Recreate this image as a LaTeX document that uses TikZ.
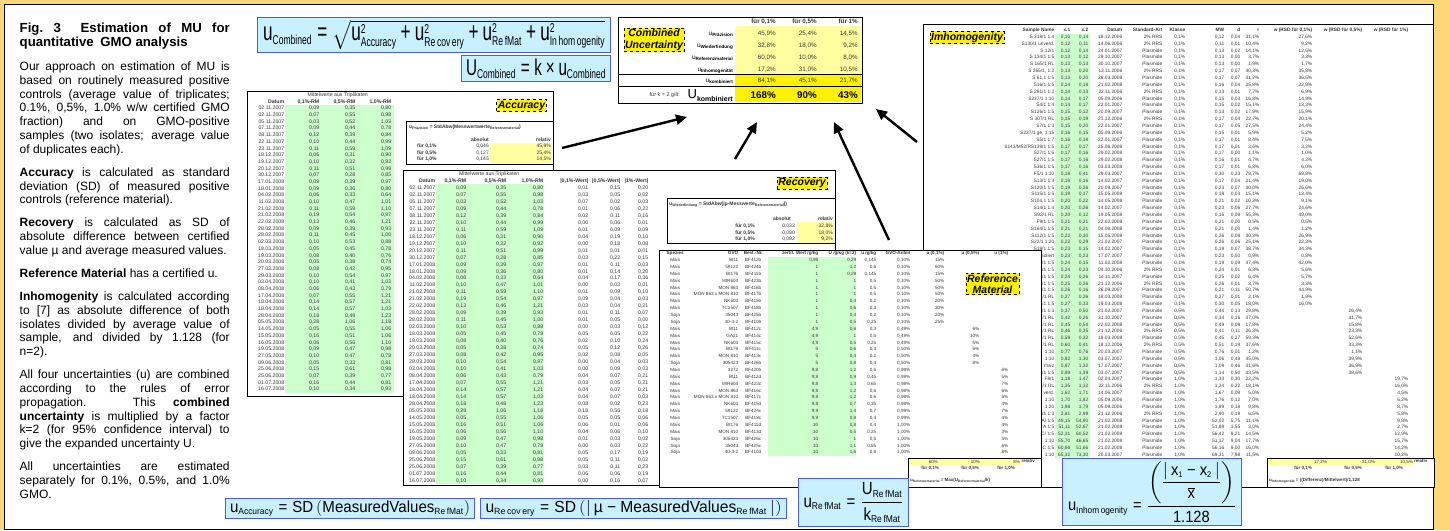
\documentclass[tikz,border=0pt]{standalone}
\usepackage{amsmath}
\usepackage{fontspec}
\usepackage{array}
\setmainfont{Liberation Sans}
\newfontfamily\eqfont[FakeStretch=0.86]{Liberation Sans}
\usetikzlibrary{positioning,arrows.meta}

\definecolor{posteryellow}{RGB}{255,216,117}
\definecolor{eqblue}{RGB}{75,95,220}
\definecolor{eqcyan}{RGB}{200,240,255}
\definecolor{rmgreen}{RGB}{204,255,204}
\definecolor{paleyellow}{RGB}{255,255,160}
\definecolor{celltext}{RGB}{55,55,55}

\newcolumntype{R}[1]{>{\raggedleft\arraybackslash}p{#1pt}}
\newcolumntype{C}[1]{>{\centering\arraybackslash}p{#1pt}}
\setlength{\tabcolsep}{0pt}

\newcommand{\sz}[2]{\mbox{\fontsize{#1}{#1}\selectfont #2}}
\newcommand{\lo}[2]{\raisebox{-0.45ex}{\fontsize{#1}{#1}\selectfont #2}}
\newcommand{\eqsign}{\mathrel{\mbox{=}}}
\newcommand{\plussign}{\mathbin{\mbox{+}}}
\newcommand{\pgap}{\par\vspace{9.2pt}}

\tikzset{eqbox/.style = {draw=eqblue, fill=eqcyan, line width=1.1pt, inner sep=0, anchor=north west}}
\tikzset{tabframe/.style = {draw=black, fill=white, line width=1pt}}
\tikzset{tabtext/.style = {anchor=north west, inner sep=0, text=celltext}}
\tikzset{innerbox/.style = {draw, fill=white, line width=1pt, inner sep=0, anchor=north west}}
\tikzset{tag/.style = {draw, dashed, fill=yellow, line width=0.7pt, inner sep=1.2pt, align=center,
                       font=\fontsize{10.5}{11.5}\selectfont\bfseries\itshape}}
\tikzset{cell/.style = {inner sep=0, text height=3.7pt, text depth=1pt, text=celltext, font=\fontsize{5}{5}\selectfont\bfseries}}
\tikzset{cellv/.style = {cell, anchor=east, font=\fontsize{5}{5}\selectfont}}
\tikzset{subval/.style = {inner sep=0, text height=3.3pt, text depth=0.9pt, text=celltext, anchor=east, font=\fontsize{4.5}{4.5}\selectfont}}
\tikzset{subhead/.style = {subval, anchor=center, font=\fontsize{4.5}{4.5}\selectfont\bfseries}}
\tikzset{cuval/.style = {anchor=east, inner sep=0, text height=4.6pt, text depth=1.3pt, text=celltext, font=\fontsize{6.3}{6.3}\selectfont}}
\tikzset{cuhead/.style = {cuval, font=\fontsize{6.3}{6.3}\selectfont\bfseries}}
\tikzset{culab/.style = {anchor=east, inner sep=0, text height=4.7pt, text depth=1.8pt, font=\fontsize{6.5}{6.5}\selectfont}}
\tikzset{bigarrow/.style = {-{Triangle[length=11pt,width=10pt]}, line width=2.4pt}}

\begin{document}
\begin{tikzpicture}[x=1pt, y=-1pt]
    % poster frame
    \fill[posteryellow] (0,0) rectangle (1450,530);
    \draw[fill=white, line width=0.8pt] (4,4.5) rectangle (1433.5,529.6);

    % left column
    \node[anchor=north west, inner sep=0, text width=210pt, align=justify,
          font=\fontsize{12}{13.8}\selectfont] (intro) at (19.5,22.5) {%
      {\fontsize{13.2}{14.5}\selectfont\bfseries Fig.~3\hspace{1.5em}Estimation of MU for\linebreak quantitative\enspace GMO analysis\par}
      \vspace{10pt}
      Our approach on estimation of MU is\linebreak based on routinely measured positive\linebreak controls (average value of triplicates;\linebreak 0.1\%, 0,5\%, 1.0\% w/w certified GMO\linebreak fraction) and on GMO-positive\linebreak samples (two isolates; average value\linebreak of duplicates each).\pgap
      \textbf{Accuracy} is calculated as standard\linebreak deviation (SD) of measured positive\linebreak controls (reference material).\pgap
      \textbf{Recovery} is calculated as SD of\linebreak absolute difference between certified\linebreak value µ and average measured values.\pgap
      \textbf{Reference Material} has a certified u.\pgap
      \textbf{Inhomogenity} is calculated according\linebreak to [7] as absolute difference of both\linebreak isolates divided by average value of\linebreak sample, and divided by 1.128 (for\linebreak n=2).\pgap
      All four uncertainties (u) are combined\linebreak according to the rules of error\linebreak propagation. This \textbf{combined}\linebreak \textbf{uncertainty} is multiplied by a factor\linebreak k=2 (for 95\% confidence interval) to\linebreak give the expanded uncertainty U.\pgap
      All uncertainties are estimated\linebreak separately for 0.1\%, 0.5\%, and 1.0\%\linebreak GMO.};

    % Accuracy
    \draw[tabframe] (247,91) rectangle (553,396);
    \fill[rmgreen] (285,105) rectangle (394,392.7);
    \node[tabtext, font=\fontsize{5.2}{6.69}\selectfont] (acctab) at (248,91.6) {%
      \begin{tabular}{R{36}R{35}R{36}R{36}}
       & \multicolumn{3}{c}{Mittelwerte aus Triplikaten}\\
      \textbf{Datum} & \textbf{0,1\%-RM} & \textbf{0,5\%-RM} & \textbf{1,0\%-RM}\\
      02.11.2007 & 0,09 & 0,35 & 0,80\\
      02.11.2007 & 0,07 & 0,55 & 0,98\\
      05.11.2007 & 0,03 & 0,52 & 1,03\\
      07.11.2007 & 0,09 & 0,44 & 0,78\\
      08.11.2007 & 0,12 & 0,39 & 0,84\\
      22.11.2007 & 0,10 & 0,44 & 0,99\\
      23.11.2007 & 0,11 & 0,59 & 1,09\\
      18.12.2007 & 0,06 & 0,31 & 0,90\\
      19.12.2007 & 0,10 & 0,32 & 0,92\\
      20.12.2007 & 0,11 & 0,51 & 0,99\\
      30.12.2007 & 0,07 & 0,28 & 0,85\\
      17.01.2008 & 0,09 & 0,39 & 0,97\\
      18.01.2008 & 0,09 & 0,36 & 0,80\\
      04.02.2008 & 0,06 & 0,33 & 0,64\\
      11.02.2008 & 0,10 & 0,47 & 1,01\\
      21.02.2008 & 0,11 & 0,59 & 1,10\\
      21.02.2008 & 0,19 & 0,54 & 0,97\\
      22.02.2008 & 0,13 & 0,46 & 1,21\\
      28.02.2008 & 0,09 & 0,39 & 0,93\\
      28.02.2008 & 0,11 & 0,45 & 1,00\\
      02.03.2008 & 0,10 & 0,53 & 0,88\\
      18.03.2008 & 0,05 & 0,45 & 0,78\\
      19.03.2008 & 0,08 & 0,40 & 0,76\\
      20.03.2008 & 0,05 & 0,38 & 0,74\\
      27.03.2008 & 0,08 & 0,42 & 0,95\\
      29.03.2008 & 0,10 & 0,54 & 0,97\\
      03.04.2008 & 0,10 & 0,41 & 1,03\\
      08.04.2008 & 0,06 & 0,43 & 0,79\\
      17.04.2008 & 0,07 & 0,55 & 1,21\\
      18.04.2008 & 0,14 & 0,57 & 1,21\\
      18.04.2008 & 0,14 & 0,57 & 1,03\\
      28.04.2008 & 0,18 & 0,48 & 1,23\\
      05.05.2008 & 0,28 & 1,06 & 1,18\\
      14.05.2008 & 0,05 & 0,55 & 1,06\\
      15.05.2008 & 0,16 & 0,51 & 1,06\\
      16.05.2008 & 0,06 & 0,56 & 1,10\\
      19.05.2008 & 0,09 & 0,47 & 0,98\\
      27.05.2008 & 0,10 & 0,47 & 0,78\\
      09.06.2008 & 0,05 & 0,33 & 0,81\\
      25.06.2008 & 0,15 & 0,61 & 0,98\\
      25.06.2008 & 0,07 & 0,39 & 0,77\\
      01.07.2008 & 0,16 & 0,44 & 0,81\\
      16.07.2008 & 0,10 & 0,34 & 0,93\\
      \end{tabular}};
    \node[innerbox, minimum width=147, minimum height=43] (precbox) at (406,121) {};
    \node[cell, anchor=west] (precf) at (409,127) {u\lo{3.6}{Präzision} = StdAbw(Messwertwerte\lo{3.6}{Referenzmaterial})};
    \node[cell, anchor=east] (precabs) at (489,140) {absolut};
    \node[cell, anchor=east] (precrel) at (551,140) {relativ};
    \fill[paleyellow] (490,143) rectangle (552,163.5);
    \foreach \y/\f/\a/\r [count=\i] in {146.5/{für 0,1\%}/{0,046}/{45,9\%},
                                         153/{für 0,5\%}/{0,127}/{25,4\%},
                                         159.5/{für 1,0\%}/{0,145}/{14,5\%}} {
      \node[cell, anchor=west] (precl\i) at (417,\y) {\f};
      \node[cellv] (preca\i) at (489,\y) {\a};
      \node[cellv] (precr\i) at (551,\y) {\r};
    }
    \node[tag] (acctag) at (521.5,105.5) {Accuracy};

    % Recovery
    \draw[tabframe] (403,170) rectangle (835,485);
    \fill[rmgreen] (436,184.2) rectangle (544,484.3);
    \node[tabtext, font=\fontsize{5.2}{6.98}\selectfont] (rectab) at (403,170.2) {%
      \begin{tabular}{R{32}R{31}R{40}R{37}R{45}R{32}R{28}}
       & \multicolumn{3}{c}{Mittelwerte aus Triplikaten} & & & \\
      \textbf{Datum} & \textbf{0,1\%-RM} & \textbf{0,5\%-RM} & \textbf{1,0\%-RM} & \textbf{|0,1\%-Wert|} & \textbf{|0,5\%-Wert|} & \textbf{|1\%-Wert|}\\
      02.11.2007 & 0,09 & 0,35 & 0,80 & 0,01 & 0,15 & 0,20\\
      02.11.2007 & 0,07 & 0,55 & 0,98 & 0,03 & 0,05 & 0,02\\
      05.11.2007 & 0,03 & 0,52 & 1,03 & 0,07 & 0,02 & 0,03\\
      07.11.2007 & 0,09 & 0,44 & 0,78 & 0,01 & 0,06 & 0,22\\
      08.11.2007 & 0,12 & 0,39 & 0,84 & 0,02 & 0,11 & 0,16\\
      22.11.2007 & 0,10 & 0,44 & 0,99 & 0,00 & 0,06 & 0,01\\
      23.11.2007 & 0,11 & 0,59 & 1,09 & 0,01 & 0,09 & 0,09\\
      18.12.2007 & 0,06 & 0,31 & 0,90 & 0,04 & 0,19 & 0,10\\
      19.12.2007 & 0,10 & 0,32 & 0,92 & 0,00 & 0,18 & 0,08\\
      20.12.2007 & 0,11 & 0,51 & 0,99 & 0,01 & 0,01 & 0,01\\
      30.12.2007 & 0,07 & 0,28 & 0,85 & 0,03 & 0,22 & 0,15\\
      17.01.2008 & 0,09 & 0,39 & 0,97 & 0,01 & 0,11 & 0,03\\
      18.01.2008 & 0,09 & 0,36 & 0,80 & 0,01 & 0,14 & 0,20\\
      04.02.2008 & 0,06 & 0,33 & 0,64 & 0,04 & 0,17 & 0,36\\
      11.02.2008 & 0,10 & 0,47 & 1,01 & 0,00 & 0,03 & 0,01\\
      21.02.2008 & 0,11 & 0,59 & 1,10 & 0,01 & 0,09 & 0,10\\
      21.02.2008 & 0,19 & 0,54 & 0,97 & 0,09 & 0,04 & 0,03\\
      22.02.2008 & 0,13 & 0,46 & 1,21 & 0,03 & 0,04 & 0,21\\
      28.02.2008 & 0,09 & 0,39 & 0,93 & 0,01 & 0,11 & 0,07\\
      28.02.2008 & 0,11 & 0,45 & 1,00 & 0,01 & 0,05 & 0,00\\
      02.03.2008 & 0,10 & 0,53 & 0,88 & 0,00 & 0,03 & 0,12\\
      18.03.2008 & 0,05 & 0,45 & 0,78 & 0,05 & 0,05 & 0,22\\
      19.03.2008 & 0,08 & 0,40 & 0,76 & 0,02 & 0,10 & 0,24\\
      20.03.2008 & 0,05 & 0,38 & 0,74 & 0,05 & 0,12 & 0,26\\
      27.03.2008 & 0,08 & 0,42 & 0,95 & 0,02 & 0,08 & 0,05\\
      29.03.2008 & 0,10 & 0,54 & 0,97 & 0,00 & 0,04 & 0,03\\
      03.04.2008 & 0,10 & 0,41 & 1,03 & 0,00 & 0,09 & 0,03\\
      08.04.2008 & 0,06 & 0,43 & 0,79 & 0,04 & 0,07 & 0,21\\
      17.04.2008 & 0,07 & 0,55 & 1,21 & 0,03 & 0,05 & 0,21\\
      18.04.2008 & 0,14 & 0,57 & 1,21 & 0,04 & 0,07 & 0,21\\
      18.04.2008 & 0,14 & 0,57 & 1,03 & 0,04 & 0,07 & 0,03\\
      28.04.2008 & 0,18 & 0,48 & 1,23 & 0,08 & 0,02 & 0,23\\
      05.05.2008 & 0,28 & 1,06 & 1,18 & 0,18 & 0,56 & 0,18\\
      14.05.2008 & 0,05 & 0,55 & 1,06 & 0,05 & 0,05 & 0,06\\
      15.05.2008 & 0,16 & 0,51 & 1,06 & 0,06 & 0,01 & 0,06\\
      16.05.2008 & 0,06 & 0,56 & 1,10 & 0,04 & 0,06 & 0,10\\
      19.05.2008 & 0,09 & 0,47 & 0,98 & 0,01 & 0,03 & 0,02\\
      27.05.2008 & 0,10 & 0,47 & 0,78 & 0,00 & 0,03 & 0,22\\
      09.06.2008 & 0,05 & 0,33 & 0,81 & 0,05 & 0,17 & 0,19\\
      25.06.2008 & 0,15 & 0,61 & 0,98 & 0,05 & 0,11 & 0,02\\
      25.06.2008 & 0,07 & 0,39 & 0,77 & 0,03 & 0,11 & 0,23\\
      01.07.2008 & 0,16 & 0,44 & 0,81 & 0,06 & 0,06 & 0,19\\
      16.07.2008 & 0,10 & 0,34 & 0,93 & 0,00 & 0,16 & 0,07\\
      \end{tabular}};
    \node[innerbox, minimum width=168, minimum height=45] (recbox) at (667,198) {};
    \node[cell, anchor=west] (recf) at (669,204) {u\lo{3.6}{Wiederfindung} = StdAbw(|µ-Messwerte\lo{3.6}{Referenzmaterial}|)};
    \node[cell, anchor=east] (recabs) at (791,219) {absolut};
    \node[cell, anchor=east] (recrel) at (833,219) {relativ};
    \fill[paleyellow] (797,222) rectangle (834,242.5);
    \foreach \y/\f/\a/\r [count=\i] in {226/{für 0,1\%}/{0,033}/{32,8\%},
                                         233/{für 0,5\%}/{0,090}/{18,0\%},
                                         239.5/{für 1,0\%}/{0,092}/{9,2\%}} {
      \node[cell, anchor=east] (recl\i) at (755,\y) {\f};
      \node[cellv] (reca\i) at (795,\y) {\a};
      \node[cellv] (recr\i) at (833,\y) {\r};
    }
    \node[tag] (rectag) at (802,183) {Recovery};

    % Inhomogenity
    \draw[tabframe] (923,24) rectangle (1433.5,487);
    \fill[rmgreen] (1055,33.5) rectangle (1090,458);
    \node[tabtext, font=\fontsize{4.8}{6.85}\selectfont] (inhtab) at (930,26.6) {%
      \begin{tabular}{R{124}R{16}R{18}R{34}R{40}R{23}R{39}R{16}R{19}R{53}R{50}R{46}}
      \textbf{Sample Name} & \textbf{x.1} & \textbf{x.2} & \textbf{Datum} & \textbf{Standard-Art} & \textbf{Klasse} & \textbf{MW} & \textbf{d} & \textbf{r} & \textbf{w (RSD für 0,1\%)} & \textbf{w (RSD für 0,5\%)} & \textbf{w (RSD für 1\%)}\\
      S 318/1 1:4 & 0,10 & 0,14 & 18.12.2006 & 2\% RRS & 0,1\% & 0,12 & 0,04 & 31,1\% & 27,6\% & & \\
      S130/1 unverd. & 0,12 & 0,11 & 14.06.2006 & 2\% RRS & 0,1\% & 0,11 & 0,01 & 10,4\% & 9,2\% & & \\
      S 12/1 & 0,12 & 0,14 & 24.01.2007 & Plasmide & 0,1\% & 0,13 & 0,02 & 14,1\% & 12,5\% & & \\
      S 134/1 1:5 & 0,13 & 0,12 & 29.10.2007 & Plasmide & 0,1\% & 0,13 & 0,00 & 3,7\% & 3,3\% & & \\
      S 165/1 RL & 0,13 & 0,13 & 30.10.2007 & Plasmide & 0,1\% & 0,13 & 0,00 & 1,9\% & 1,7\% & & \\
      S 265/1, 1:2 & 0,13 & 0,20 & 13.11.2006 & 2\% RRS & 0,1\% & 0,17 & 0,07 & 40,3\% & 35,8\% & & \\
      S 61,1 1:5 & 0,13 & 0,20 & 28.03.2008 & Plasmide & 0,1\% & 0,17 & 0,07 & 41,2\% & 36,5\% & & \\
      S16/1 1:5 & 0,14 & 0,18 & 21.02.2008 & Plasmide & 0,1\% & 0,16 & 0,04 & 25,8\% & 22,9\% & & \\
      S 291/1 1:2 & 0,14 & 0,13 & 22.11.2006 & 2\% RRS & 0,1\% & 0,13 & 0,01 & 7,7\% & 6,9\% & & \\
      S237/1 1:10 & 0,14 & 0,17 & 05.09.2006 & Plasmide & 0,1\% & 0,15 & 0,03 & 16,8\% & 14,9\% & & \\
      S4/1 1:4 & 0,14 & 0,17 & 22.01.2007 & Plasmide & 0,1\% & 0,15 & 0,02 & 15,1\% & 13,3\% & & \\
      S126/1 1:5 & 0,15 & 0,12 & 20.09.2007 & Plasmide & 0,1\% & 0,13 & 0,02 & 17,9\% & 15,9\% & & \\
      S 307/1 RL & 0,15 & 0,19 & 21.12.2006 & 2\% RRS & 0,1\% & 0,17 & 0,04 & 22,7\% & 20,1\% & & \\
      S7/1 1:3 & 0,15 & 0,20 & 22.01.2007 & Plasmide & 0,1\% & 0,17 & 0,05 & 27,5\% & 24,4\% & & \\
      S237/1 ge, 1:15 & 0,16 & 0,15 & 05.09.2006 & Plasmide & 0,1\% & 0,15 & 0,01 & 5,9\% & 5,2\% & & \\
      S5/1 1:7 & 0,16 & 0,18 & 22.01.2007 & Plasmide & 0,1\% & 0,17 & 0,01 & 8,4\% & 7,5\% & & \\
      S143/M52/RS139/1 1:5 & 0,17 & 0,17 & 25.06.2008 & Plasmide & 0,1\% & 0,17 & 0,01 & 3,6\% & 3,2\% & & \\
      S27/1 1:5 & 0,17 & 0,16 & 29.02.2008 & Plasmide & 0,1\% & 0,17 & 0,00 & 1,1\% & 1,0\% & & \\
      S27/1 1:5 & 0,17 & 0,16 & 29.02.2008 & Plasmide & 0,1\% & 0,16 & 0,01 & 4,7\% & 4,2\% & & \\
      S36/1 1:5 & 0,17 & 0,16 & 03.03.2008 & Plasmide & 0,1\% & 0,17 & 0,01 & 6,8\% & 6,0\% & & \\
      F5/1 1:10 & 0,18 & 0,41 & 29.03.2007 & Plasmide & 0,1\% & 0,30 & 0,23 & 78,7\% & 69,8\% & & \\
      S13/1 1:3 & 0,19 & 0,16 & 14.02.2007 & Plasmide & 0,1\% & 0,17 & 0,04 & 21,4\% & 19,0\% & & \\
      S120/1 1:5 & 0,19 & 0,26 & 20.09.2007 & Plasmide & 0,1\% & 0,23 & 0,07 & 30,0\% & 26,6\% & & \\
      S115/1 1:5 & 0,19 & 0,17 & 15.05.2008 & Plasmide & 0,1\% & 0,18 & 0,03 & 15,1\% & 13,4\% & & \\
      S104,1 1:5 & 0,20 & 0,22 & 14.05.2008 & Plasmide & 0,1\% & 0,21 & 0,02 & 10,3\% & 9,1\% & & \\
      S14/1 1:4 & 0,20 & 0,26 & 14.02.2007 & Plasmide & 0,1\% & 0,23 & 0,06 & 27,7\% & 24,6\% & & \\
      S92/1 RL & 0,20 & 0,12 & 19.05.2008 & Plasmide & 0,1\% & 0,16 & 0,09 & 55,3\% & 49,0\% & & \\
      F9/1 1:5 & 0,21 & 0,21 & 22.02.2008 & Plasmide & 0,1\% & 0,21 & 0,00 & 0,5\% & 0,5\% & & \\
      S164/1 1:5 & 0,21 & 0,21 & 04.08.2008 & Plasmide & 0,1\% & 0,21 & 0,00 & 1,4\% & 1,2\% & & \\
      S112/1 1:5 & 0,22 & 0,30 & 15.05.2008 & Plasmide & 0,1\% & 0,26 & 0,08 & 30,3\% & 26,9\% & & \\
      S22/1 1:20 & 0,22 & 0,29 & 21.02.2007 & Plasmide & 0,1\% & 0,26 & 0,06 & 25,1\% & 22,3\% & & \\
      S18/1 1:5 & 0,23 & 0,15 & 14.02.2007 & Plasmide & 0,1\% & 0,19 & 0,07 & 38,7\% & 34,3\% & & \\
      isoliert & 0,23 & 0,23 & 17.07.2007 & Plasmide & 0,1\% & 0,23 & 0,00 & 0,9\% & 0,8\% & & \\
      /1 1:5 & 0,24 & 0,15 & 11.02.2008 & Plasmide & 0,1\% & 0,19 & 0,09 & 47,4\% & 42,0\% & & \\
      /1 1:5 & 0,24 & 0,23 & 04.10.2006 & 2\% RRS & 0,1\% & 0,24 & 0,01 & 6,3\% & 5,6\% & & \\
      /1 1:5 & 0,24 & 0,26 & 14.11.2007 & Plasmide & 0,1\% & 0,25 & 0,02 & 6,4\% & 5,7\% & & \\
      /1 1:5 & 0,25 & 0,26 & 21.12.2006 & 2\% RRS & 0,1\% & 0,26 & 0,01 & 3,7\% & 3,3\% & & \\
      /1 1:5 & 0,26 & 0,16 & 26.09.2007 & Plasmide & 0,1\% & 0,21 & 0,11 & 50,7\% & 44,9\% & & \\
      /1 RL & 0,27 & 0,26 & 18.03.2008 & Plasmide & 0,1\% & 0,27 & 0,01 & 2,1\% & 1,9\% & & \\
      /1 1:5 & 0,27 & 0,33 & 19.03.2008 & Plasmide & 0,1\% & 0,30 & 0,05 & 18,0\% & 16,0\% & & \\
      /1 1:3 & 0,37 & 0,50 & 21.02.2007 & Plasmide & 0,5\% & 0,44 & 0,13 & 29,8\% & & 26,4\% & \\
      /1 RL & 0,42 & 0,26 & 31.10.2007 & Plasmide & 0,5\% & 0,34 & 0,16 & 47,0\% & & 41,7\% & \\
      /1 RL & 0,45 & 0,54 & 22.02.2008 & Plasmide & 0,5\% & 0,49 & 0,09 & 17,8\% & & 15,8\% & \\
      /1 RL & 0,46 & 0,35 & 21.12.2006 & 2\% RRS & 0,5\% & 0,41 & 0,11 & 26,3\% & & 23,3\% & \\
      /1 RL & 0,59 & 0,32 & 18.03.2008 & Plasmide & 0,5\% & 0,45 & 0,27 & 59,3\% & & 52,6\% & \\
      /1 RL & 0,60 & 0,41 & 18.12.2006 & 2\% RRS & 0,5\% & 0,51 & 0,19 & 37,6\% & & 33,3\% & \\
      1:10 & 0,77 & 0,76 & 20.03.2007 & Plasmide & 0,5\% & 0,76 & 0,01 & 1,2\% & & 1,1\% & \\
      1:10 & 0,82 & 1,30 & 03.07.2007 & Plasmide & 0,5\% & 1,06 & 0,48 & 45,0\% & & 39,9\% & \\
      maiz & 0,87 & 1,32 & 17.07.2007 & Plasmide & 0,5\% & 1,09 & 0,46 & 41,6\% & & 36,9\% & \\
      /1 1:5 & 0,89 & 1,39 & 03.07.2007 & Plasmide & 0,5\% & 1,14 & 0,50 & 43,5\% & & 38,6\% & \\
      F8/1 & 1,18 & 1,47 & 02.04.2007 & Plasmide & 1,0\% & 1,33 & 0,30 & 22,2\% & & & 19,7\%\\
      /1 RL & 1,35 & 1,12 & 22.11.2006 & 2\% RRS & 1,0\% & 1,24 & 0,22 & 18,1\% & & & 16,0\%\\
      verd. & 1,62 & 1,71 & 14.06.2007 & Plasmide & 1,0\% & 1,67 & 0,08 & 5,0\% & & & 4,5\%\\
      1:10 & 1,70 & 1,82 & 05.09.2006 & Plasmide & 1,0\% & 1,76 & 0,12 & 7,0\% & & & 6,2\%\\
      1:20 & 1,98 & 1,79 & 05.09.2006 & Plasmide & 1,0\% & 1,89 & 0,18 & 9,8\% & & & 8,7\%\\
      /1 1:3 & 2,81 & 2,99 & 21.12.2006 & 2\% RRS & 1,0\% & 2,90 & 0,19 & 6,5\% & & & 5,8\%\\
      A/ 1:5 & 49,15 & 54,90 & 21.02.2008 & Plasmide & 1,0\% & 52,02 & 5,75 & 11,1\% & & & 9,8\%\\
      A 1:5 & 51,11 & 52,67 & 21.02.2008 & Plasmide & 1,0\% & 51,89 & 1,55 & 3,0\% & & & 2,7\%\\
      C/ 1:5 & 52,31 & 60,52 & 21.02.2008 & Plasmide & 1,0\% & 56,42 & 8,21 & 14,5\% & & & 12,9\%\\
      1:10 & 55,70 & 46,65 & 21.02.2008 & Plasmide & 1,0\% & 51,17 & 9,04 & 17,7\% & & & 15,7\%\\
      C 1:5 & 60,66 & 51,66 & 21.02.2008 & Plasmide & 1,0\% & 56,16 & 9,00 & 16,0\% & & & 14,2\%\\
      1:10 & 65,32 & 73,30 & 20.03.2007 & Plasmide & 1,0\% & 69,31 & 7,98 & 11,5\% & & & 10,2\%\\
      \end{tabular}};
    \node[innerbox, minimum width=166.5, minimum height=29] (inhsub) at (1267,458) {};
    \fill[paleyellow] (1268,459) rectangle (1413,465);
    \foreach \x/\v [count=\i] in {1327/{17,2\%},1375/{31,0\%},1413/{10,5\%}}
      \node[subval] (inhr\i) at (\x,462) {\v};
    \node[subhead, anchor=west] (inhrel) at (1414,461.5) {relativ};
    \foreach \x/\v [count=\i] in {1303/{für 0,1\%},1353/{für 0,5\%},1394/{für 1,0\%}}
      \node[subhead] (inhf\i) at (\x,468) {\v};
    \node[subhead, anchor=west] (inhfml) at (1269,480) {u\lo{3.3}{Inhomogenität} = ((Differenz)/Mittelwert)/1,128};
    \node[tag] (inhtag) at (967,37.5) {Imhomogenity};

    % Reference Material
    \draw[tabframe] (659,250) rectangle (1041,487);
    \fill[rmgreen] (768,256.6) rectangle (856,455.8);
    \node[tabtext, font=\fontsize{4.6}{6.87}\selectfont] (reftab) at (662,249.7) {%
      \begin{tabular}{C{26}R{50}C{30}R{50}R{38}R{20}R{34}R{34}R{35}R{29}}
      \textbf{Spezies} & \textbf{GVO} & \textbf{Best.-Nr.} & \textbf{zertif. Wert /g/kg} & \textbf{U /g/kg (k=2)} & \textbf{u /g/kg} & \textbf{GVO-Anteil} & \textbf{u (0,1\%)} & \textbf{u (0,5\%)} & \textbf{u (1\%)}\\
      Mais & Bt11 & BF412b & 0,98 & 0,29 & 0,145 & 0,10\% & 15\% & & \\
      Mais & 59122 & BF424b & 1 & 1,2 & 0,6 & 0,10\% & 60\% & & \\
      Mais & Bt176 & BF411b & 1 & 0,29 & 0,145 & 0,10\% & 15\% & & \\
      Mais & MIR604 & BF423b & 1 & 1 & 0,5 & 0,10\% & 50\% & & \\
      Mais & MON 863 & BF416b & 1 & 1 & 0,5 & 0,10\% & 50\% & & \\
      Mais & MON 863 x MON 810 & BF417b & 1 & 1 & 0,5 & 0,10\% & 50\% & & \\
      Mais & NK603 & BF415b & 1 & 0,4 & 0,2 & 0,10\% & 20\% & & \\
      Mais & TC1507 & BF418b & 1 & 0,6 & 0,3 & 0,10\% & 30\% & & \\
      Soja & 35043 & BF425b & 1 & 0,4 & 0,2 & 0,10\% & 20\% & & \\
      Soja & 40-3-2 & BF410b & 1 & 0,5 & 0,25 & 0,10\% & 25\% & & \\
      Mais & Bt11 & BF412c & 4,9 & 0,6 & 0,3 & 0,49\% & & 6\% & \\
      Mais & GA21 & BF414c & 4,9 & 1 & 0,5 & 0,49\% & & 10\% & \\
      Mais & NK603 & BF415c & 4,9 & 0,5 & 0,25 & 0,49\% & & 5\% & \\
      Mais & Bt176 & BF411c & 5 & 0,6 & 0,3 & 0,50\% & & 6\% & \\
      Mais & MON 810 & BF413c & 5 & 0,4 & 0,2 & 0,50\% & & 4\% & \\
      Soja & 305423 & BF426b & 5 & 0,8 & 0,4 & 0,50\% & & 8\% & \\
      Mais & 3272 & BF420b & 9,8 & 1,2 & 0,6 & 0,98\% & & & 6\%\\
      Mais & Bt11 & BF412d & 9,8 & 0,9 & 0,45 & 0,98\% & & & 5\%\\
      Mais & MIR604 & BF423c & 9,8 & 1,3 & 0,65 & 0,98\% & & & 7\%\\
      Mais & MON 863 & BF416c & 9,8 & 1,2 & 0,6 & 0,98\% & & & 6\%\\
      Mais & MON 863 x MON 810 & BF417c & 9,8 & 1,2 & 0,6 & 0,98\% & & & 6\%\\
      Mais & NK603 & BF415d & 9,8 & 0,7 & 0,35 & 0,98\% & & & 4\%\\
      Mais & 59122 & BF424c & 9,9 & 1,4 & 0,7 & 0,99\% & & & 7\%\\
      Mais & TC1507 & BF418c & 9,9 & 0,8 & 0,4 & 0,99\% & & & 4\%\\
      Mais & Bt176 & BF411d & 10 & 0,8 & 0,4 & 1,00\% & & & 4\%\\
      Mais & MON 810 & BF413d & 10 & 0,5 & 0,25 & 1,00\% & & & 3\%\\
      Soja & 305423 & BF426c & 10 & 1 & 0,5 & 1,00\% & & & 5\%\\
      Soja & 35043 & BF425c & 10 & 1,1 & 0,55 & 1,00\% & & & 6\%\\
      Soja & 40-3-2 & BF410d & 10 & 1,6 & 0,8 & 1,00\% & & & 8\%\\
      \end{tabular}};
    \node[innerbox, minimum width=133, minimum height=29] (refsub) at (908,458) {};
    \fill[paleyellow] (909,459) rectangle (1021,465);
    \foreach \x/\v [count=\i] in {938/{60\%},980/{10\%},1020/{8\%}}
      \node[subval] (refr\i) at (\x,462) {\v};
    \node[subhead, anchor=west] (refrel) at (1021.5,461.5) {relativ};
    \foreach \x/\v [count=\i] in {930/{für 0,1\%},970/{für 0,5\%},1006/{für 1,0\%}}
      \node[subhead] (reff\i) at (\x,468) {\v};
    \node[subhead, anchor=west] (reffml) at (910,480) {u\lo{3.3}{Referenzmaterial} = Max(U\lo{3.3}{Referenzmaterial}/k)};
    \node[tag] (reftag) at (992.5,284) {Reference\\Material};

    % Combined uncertainty
    \node[innerbox, line width=1.2pt, minimum width=244, minimum height=86] (cubox) at (618,17) {};
    \fill[paleyellow] (735,26) rectangle (861.4,74);
    \fill[yellow] (735,74) rectangle (861.4,102.4);
    \draw[line width=1pt] (618,74) -- (862,74);
    \draw[line width=1pt] (618,86) -- (862,86);
    \foreach \t [count=\i] in {{für 0,1\%},{für 0,5\%},{für 1\%}}
      \node[cuhead] (cuh\i) at ({735+41*\i},22) {\t};
    \node[culab] (cul1) at (733,34) {u\lo{4.6}{\bfseries Präzision}};
    \node[culab] (cul2) at (733,46) {u\lo{4.6}{\bfseries Wiederfindung}};
    \node[culab] (cul3) at (733,58) {u\lo{4.6}{\bfseries Referenzmaterial}};
    \node[culab] (cul4) at (733,70) {u\lo{4.6}{\bfseries Inhomogenität}};
    \node[culab] (cul5) at (733,81) {u\lo{4.6}{\bfseries kombiniert}};
    \foreach \v [count=\i] in {{45,9\%},{25,4\%},{14,5\%}} \node[cuval] (cuv1\i) at ({735+41*\i},34) {\v};
    \foreach \v [count=\i] in {{32,8\%},{18,0\%},{9,2\%}} \node[cuval] (cuv2\i) at ({735+41*\i},46) {\v};
    \foreach \v [count=\i] in {{60,0\%},{10,0\%},{8,0\%}} \node[cuval] (cuv3\i) at ({735+41*\i},58) {\v};
    \foreach \v [count=\i] in {{17,2\%},{31,0\%},{10,5\%}} \node[cuval] (cuv4\i) at ({735+41*\i},70) {\v};
    \foreach \v [count=\i] in {{84,1\%},{45,1\%},{21,7\%}} \node[cuval] (cuv5\i) at ({735+41*\i},81) {\v};
    \node[cuval, font=\fontsize{5.5}{5.5}\selectfont] (cuk) at (680,95) {für k = 2 gilt:};
    \node[anchor=east, inner sep=0, text height=9.3pt, text depth=3pt, font=\fontsize{13}{13}\selectfont] (cul6) at (733,95) {U\lo{7}{\bfseries kombiniert}};
    \foreach \v [count=\i] in {168\%,90\%,43\%}
      \node[anchor=east, inner sep=0, text height=7pt, text depth=0.5pt, font=\fontsize{9.8}{9.8}\selectfont\bfseries] (cuv6\i) at ({735+41*\i},95) {\v};
    \node[tag] (cutag) at (654,40) {Combined\\Uncertainty};

    % formulas
    \node[eqbox, minimum width=353, minimum height=35, font=\eqfont\fontsize{22}{24}\selectfont] (fcomb) at (257,17)
      {\resizebox*{342pt}{30pt}{$\mbox{u}_{\sz{11}{Combined}} \eqsign \sqrt{\mbox{u}^{\sz{11}{2}}_{\sz{11}{Accuracy}} \plussign \mbox{u}^{\sz{11}{2}}_{\sz{11}{Re\,cov\,ery}} \plussign \mbox{u}^{\sz{11}{2}}_{\sz{11}{Re\,fMat}} \plussign \mbox{u}^{\sz{11}{2}}_{\sz{11}{In\,hom\,ogenity}}}$}};
    \node[eqbox, minimum width=149, minimum height=26, font=\eqfont\fontsize{18}{20}\selectfont] (fucomb) at (461,55)
      {\resizebox*{140pt}{20pt}{$\mbox{U}_{\sz{10}{Combined}} \eqsign \mbox{k} \mathbin{\mbox{×}} \mbox{u}_{\sz{10}{Combined}}$}};
    \node[eqbox, minimum width=249, minimum height=20, font=\eqfont\fontsize{17}{19}\selectfont] (facc) at (225,498)
      {\resizebox*{240pt}{16.5pt}{$\mbox{u}_{\sz{9.5}{Accuracy}} \eqsign \mbox{SD}\left(\mbox{MeasuredValues}_{\sz{9.5}{Re\,fMat}}\right)$}};
    \node[eqbox, minimum width=306, minimum height=20, font=\eqfont\fontsize{17}{19}\selectfont] (frec) at (480,498)
      {\resizebox*{296pt}{16.5pt}{$\mbox{u}_{\sz{9.5}{Re\,cov\,ery}} \eqsign \mbox{SD}\left(\left|\,\mbox{µ} \mathbin{\mbox{−}} \mbox{MeasuredValues}_{\sz{9.5}{Re\,fMat}}\,\right|\right)$}};
    \node[eqbox, minimum width=110, minimum height=48, font=\eqfont\fontsize{16}{18}\selectfont] (fref) at (798,478)
      {\resizebox*{100pt}{41pt}{$\mbox{u}_{\sz{9}{Re\,fMat}} \eqsign \dfrac{\mbox{U}_{\sz{9}{Re\,fMat}}}{\mbox{k}_{\sz{9}{Re\,fMat}}}$}};
    \node[eqbox, minimum width=179, minimum height=67, font=\eqfont\fontsize{16}{18}\selectfont] (finh) at (1062,458)
      {\resizebox*{168pt}{61pt}{$\mbox{u}_{\sz{9}{Inhom\,ogenity}} \eqsign \dfrac{\left(\dfrac{\left|\,\mbox{x}_{\sz{8}{1}} \mathbin{\mbox{−}} \mbox{x}_{\sz{8}{2}}\,\right|}{\overline{\mbox{x}}}\right)}{\mbox{1.128}}$}};

    % arrows into the combined uncertainty
    \coordinate (a1s) at (562,148);  \coordinate (a1e) at (687,117);
    \coordinate (a2s) at (735,159);  \coordinate (a2e) at (757,122);
    \coordinate (a3s) at (889,240);  \coordinate (a3e) at (834,122);
    \coordinate (a4s) at (917,142);  \coordinate (a4e) at (876,109);
    \draw[bigarrow] (a1s) -- (a1e);
    \draw[bigarrow] (a2s) -- (a2e);
    \draw[bigarrow] (a3s) -- (a3e);
    \draw[bigarrow] (a4s) -- (a4e);
\end{tikzpicture}
\end{document}
